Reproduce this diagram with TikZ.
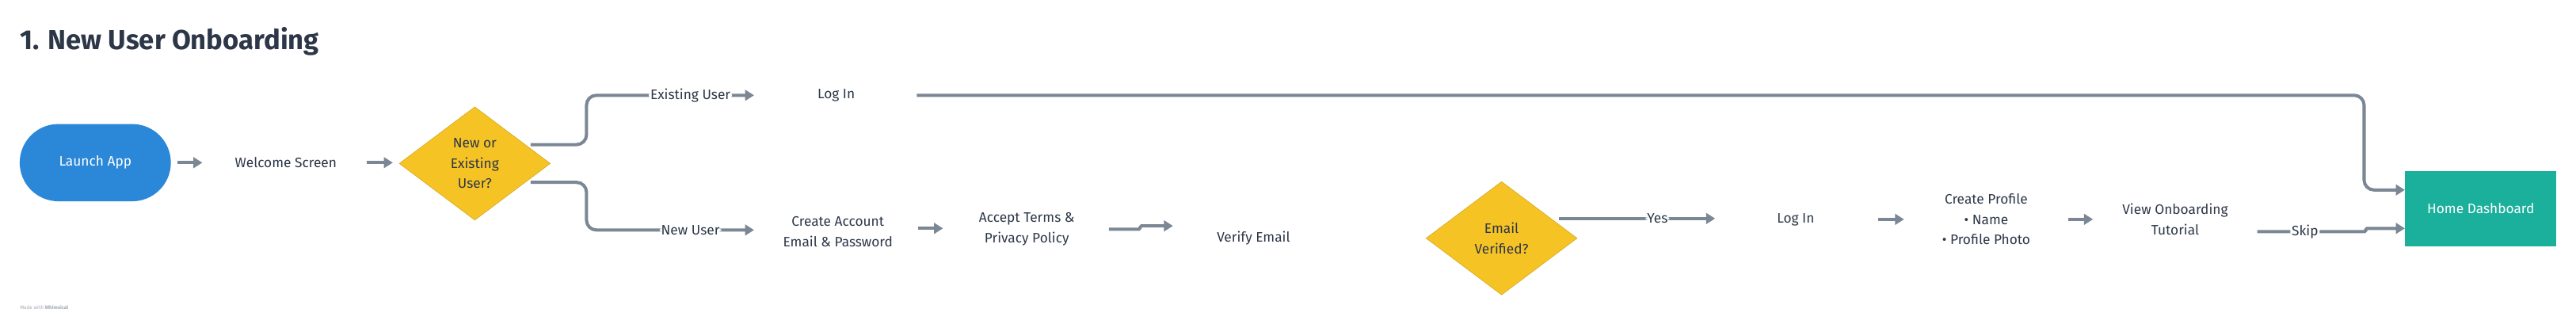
\documentclass[tikz,border=0pt]{standalone}
\usepackage{fontspec}
\setmainfont{Fira Sans}
\usetikzlibrary{shapes.geometric,arrows.meta}
\definecolor{inkdark}{HTML}{2D3748}
\definecolor{flowgrey}{HTML}{7B8794}
\definecolor{startblue}{HTML}{2B87D8}
\definecolor{askyellow}{HTML}{F6C325}
\definecolor{endteal}{HTML}{1BB09C}
\tikzset{
  screen/.style={text=inkdark,font=\fontsize{9.5}{14}\selectfont,align=center,inner sep=0},
  flow/.style={draw=flowgrey,line width=2.2pt,rounded corners=2.4mm,-{Triangle[length=2.2mm,width=2.6mm]}},
  tag/.style={fill=white,text=inkdark,font=\fontsize{9.5}{12}\selectfont,inner sep=1pt},
  ask/.style={diamond,fill=askyellow,draw=askyellow!85!black,line width=0.3pt,inner sep=0,minimum width=36.8mm,minimum height=27.6mm,text=inkdark,font=\fontsize{9.5}{14}\selectfont,align=center}
}
\begin{document}
\begin{tikzpicture}[x=0.4mm,y=-0.4mm]
\useasboundingbox (0,0) rectangle (1568,197);
\node[anchor=base west,text=inkdark,font=\bfseries\fontsize{19}{22}\selectfont,inner sep=0] (title) at (12,30) {1. New User Onboarding};
\node[anchor=west,text=flowgrey!70,font=\fontsize{3.5}{4}\selectfont,inner sep=0] (made) at (12,187) {Made with \textbf{Whimsical}};
% main row
\node[fill=startblue,rounded corners=9.4mm,minimum width=36.8mm,minimum height=18.8mm,text=white,font=\fontsize{9.5}{12}\selectfont] (launch) at (58,99) {Launch App};
\node[screen] (welcome) at (174,99) {Welcome Screen};
\node[ask] (neworold) at (289,99.5) {New or\\Existing\\User?};
\node[screen] (login1) at (509,58) {Log In};
\node[screen] (account) at (510,141) {Create Account\\Email \& Password};
\node[screen] (terms) at (625,139.5) {Accept Terms \&\\Privacy Policy};
\node[screen] (verify) at (763,145) {Verify Email};
\node[ask] (verified) at (914,145) {Email\\Verified?};
\node[screen] (login2) at (1093,133.5) {Log In};
\node[screen] (profile) at (1209,133.5) {Create Profile\\\textbullet{} Name\\\textbullet{} Profile Photo};
\node[screen] (tutorial) at (1324,133.5) {View Onboarding\\Tutorial};
\node[fill=endteal,minimum width=36.8mm,minimum height=18.4mm,inner sep=0,text=white,font=\fontsize{9.5}{12}\selectfont] (home) at (1510,127) {Home Dashboard};
% connectors
\coordinate (upout) at (323,88);
\coordinate (downout) at (323,111);
\draw[flow] (launch.east)++(4,0) -- ++(15,0);
\draw[flow] (welcome.east)++(18,0) -- ++(16,0);
\draw[flow] (upout) -- (357,88) -- (357,58) -- node[tag,pos=0.62] {Existing User} (459,58);
\draw[flow] (downout) -- (357,111) -- (357,140) -- node[tag,pos=0.62] {New User} (459,140);
\draw[flow] (559,139) -- (574,139);
\draw[flow,rounded corners=0.3mm] (675,139.5) -- (694,139.5) -- (694,137.5) -- (714,137.5);
\draw[flow] (949,133) -- node[tag,pos=0.63] {Yes} (1044,133);
\draw[flow] (1143,133.5) -- (1159,133.5);
\draw[flow] (1259,133.5) -- (1274,133.5);
\draw[flow,rounded corners=0.3mm] (1374,141) -- node[tag,pos=0.44] {Skip} (1440,141) -- (1440,139) -- (home.west|-0,139);
\draw[flow] (558,58) -- (1439,58) -- (1439,115.6) -- (home.west|-0,115.6);
\end{tikzpicture}
\end{document}
